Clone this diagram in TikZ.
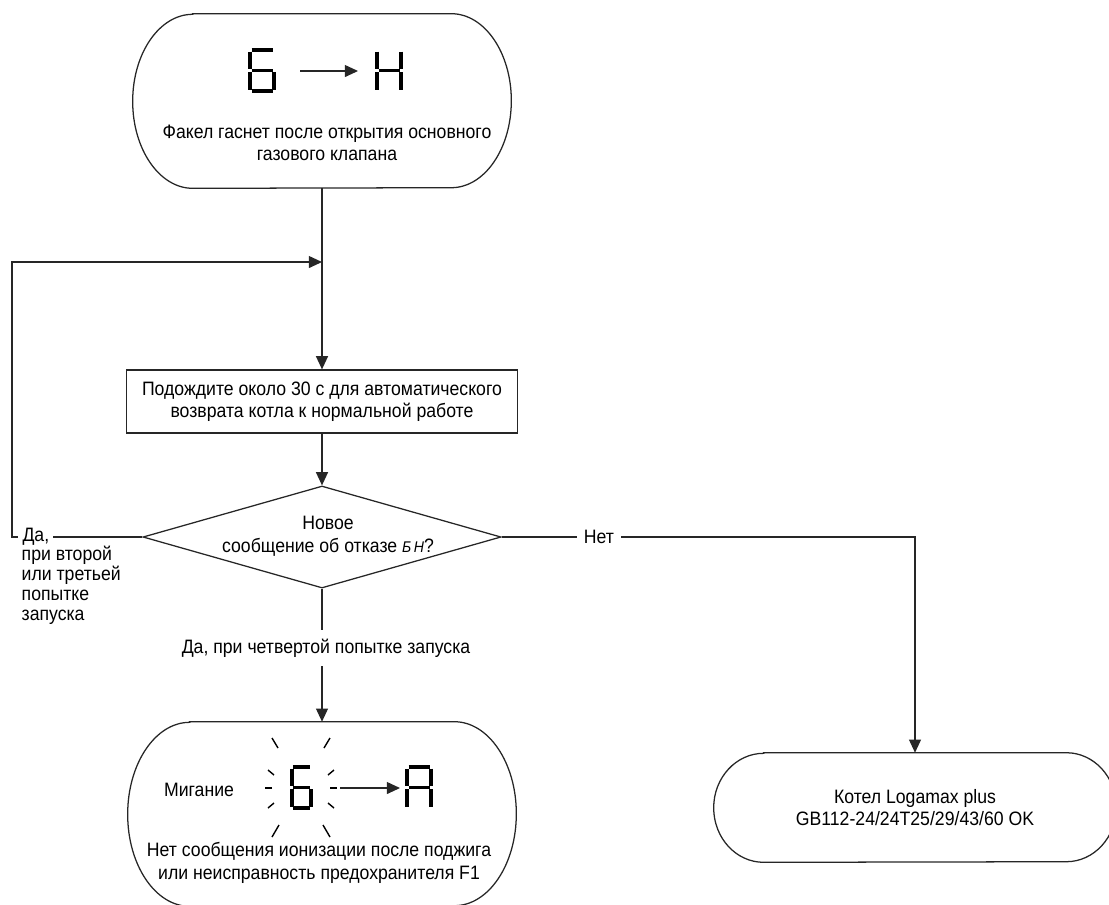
\documentclass[tikz,border=0pt]{standalone}
\usepackage{fontspec}
\setmainfont{Liberation Sans}[FakeStretch=0.91]
\usetikzlibrary{arrows.meta, positioning, shapes.geometric}
\definecolor{linegray}{HTML}{262626}
\newcommand{\flowfont}{\fontsize{13.8}{16}\selectfont}
\newcommand{\labelfont}{\fontsize{13.8}{14.4}\selectfont}
\tikzset{
  term/.style={inner sep=0pt},
  termline/.style={draw=linegray, line width=0.9pt},
  box/.style={draw=linegray, line width=0.9pt, minimum width=9.775cm,
              minimum height=1.575cm, align=center, font=\flowfont},
  decision/.style={diamond, draw=linegray, line width=0.9pt, inner sep=0pt,
                   minimum width=8.95cm, minimum height=2.55cm},
  txt/.style={font=\flowfont, align=center, inner sep=1pt},
  lbl/.style={font=\labelfont, fill=white, inner xsep=5pt, inner ysep=4pt},
  flow/.style={-{Triangle[length=3.3mm, width=3mm]}, draw=linegray, line width=0.9pt},
  seg/.style={line width=2.8pt, line cap=butt},
  ray/.style={line width=1pt},
  pics/digit/.style={code={
    \coordinate (a1) at (3.5,2);   \coordinate (a2) at (24.5,2);
    \coordinate (b1) at (26,3.5);  \coordinate (b2) at (26,21);
    \coordinate (c1) at (26,24);   \coordinate (c2) at (26,41.5);
    \coordinate (d1) at (3.5,43);  \coordinate (d2) at (24.5,43);
    \coordinate (e1) at (2,24);    \coordinate (e2) at (2,41.5);
    \coordinate (f1) at (2,3.5);   \coordinate (f2) at (2,21);
    \coordinate (g1) at (3.5,22.5); \coordinate (g2) at (24.5,22.5);
    \foreach \s in {#1} \draw[seg] (\s1) -- (\s2);
  }},
}

\begin{document}
\begin{tikzpicture}[x=0.025cm, y=-0.025cm]
  \useasboundingbox (0,0) rectangle (1109,904);

  % blocks
  \node (start) [term, minimum width=9.45cm, minimum height=4.35cm] at (322,101) {};
  \node (wait) [box] at (322,401.5) {Подождите около 30 с для автоматического\\возврата котла к нормальной работе};
  \node (check) [decision] at (322,537) {};
  \node (fail) [term, minimum width=9.7cm, minimum height=4.6cm] at (322,814) {};
  \node (ok) [term, txt, minimum width=10.05cm, minimum height=2.725cm] at (915,807.5) {Котел Logamax plus\\GB112-24/24T25/29/43/60 OK};
  \foreach \n/\rx/\ry in {start/60/87, fail/62/92, ok/50/54.5}
    \draw[termline] ([xshift=\rx*0.025cm]\n.north west) -- ([xshift=-\rx*0.025cm]\n.north east)
      arc[start angle=90, end angle=-90, x radius=\rx*0.025cm, y radius=\ry*0.025cm]
      -- ([xshift=\rx*0.025cm]\n.south west)
      arc[start angle=270, end angle=90, x radius=\rx*0.025cm, y radius=\ry*0.025cm] -- cycle;

  % texts in the blocks
  \node (starttxt) [txt] at (327,143) {Факел гаснет после открытия основного\\газового клапана};
  \node (checktxt) [txt] at (328,536) {Новое\\сообщение об отказе {\itshape\fontsize{11}{11}\selectfont Б\,Н}?};
  \node (failtxt) [txt] at (319,863) {Нет сообщения ионизации после поджига\\или неисправность предохранителя F1};
  \node (blinktxt) [txt] at (199,790) {Мигание};

  % displays
  \pic at (248,48) {digit={a,f,g,e,d,c}};
  \coordinate (bh1) at (300,71);
  \coordinate (bh2) at (358,71);
  \draw[flow] (bh1) -- (bh2);
  \pic at (375,48) {digit={f,b,g,e,c}};

  \coordinate (blink) at (301,788);
  \pic[xscale=0.8] at (290,765) {digit={a,f,g,e,d,c}};
  \foreach \s in {1,-1}
    \foreach \a/\b/\c/\d in {29/0/36/0, 27/-13/33/-18, 27/15/33/20, 23/-40/29/-50, 22/37/29/49}
      \draw[ray] ([shift={(\s*\a,\b)}]blink) -- ([shift={(\s*\c,\d)}]blink);
  \coordinate (ba1) at (340,788);
  \coordinate (ba2) at (400,788);
  \draw[flow] (ba1) -- (ba2);
  \pic at (405,765) {digit={a,b,c,e,f,g}};

  % connectors
  \coordinate (loop) at (12,262);
  \coordinate (merge) at (start.south |- loop);
  \draw[flow] (start.south) -- (wait.north);
  \draw[flow] (wait.south) -- (check.north);
  \draw[flow] (check.west) -| (loop) -- (merge);
  \draw[flow] (check.east) -| (ok.north);
  \draw[flow] (check.south) -- (fail.north);

  % labels on connectors
  \node (yes) [lbl, anchor=west, inner xsep=3pt] at (18,537) {Да,};
  \node (yesmore) [font=\labelfont, align=left, inner sep=1pt, anchor=north west] at (20,544) {при второй\\или третьей\\попытке\\запуска};
  \node (no) [lbl] at (599,537) {Нет};
  \node (four) [lbl, inner ysep=6pt] at (326,648) {Да, при четвертой попытке запуска};
\end{tikzpicture}
\end{document}
